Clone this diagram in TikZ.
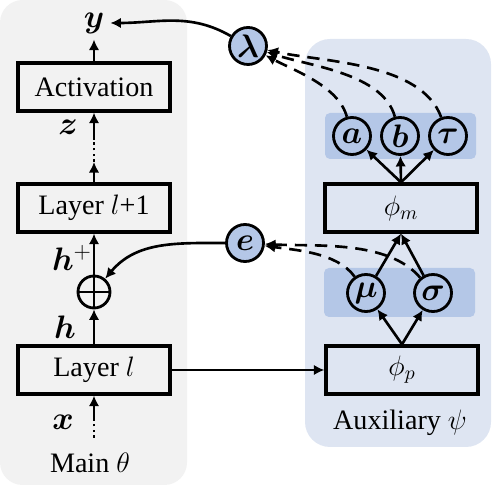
\RequirePackage{fix-cm}
\documentclass[tikz,border=0pt]{standalone}
\usepackage{fontspec}
\setmainfont{Liberation Serif}
\usepackage{bm}
\usetikzlibrary{arrows.meta, backgrounds}
\definecolor{panelgray}{RGB}{242,242,242}
\definecolor{panelblue}{RGB}{222,229,242}
\definecolor{bandblue}{RGB}{180,199,231}

\begin{document}
\begin{tikzpicture}[
    font=\fontsize{16}{19}\selectfont,
    layer/.style={draw, line width=1.9pt, minimum width=3.04cm, minimum height=0.96cm},
    var/.style={draw, circle, line width=1.6pt, fill=bandblue, minimum size=0.74cm, inner sep=0pt, font=\fontsize{18.5}{20}\selectfont},
    signal/.style={font=\fontsize{18.5}{20}\selectfont},
    flow/.style={line width=1.5pt, -{Latex[length=6pt, width=6pt]}},
    aux/.style={flow, dash pattern=on 7pt off 4.5pt, looseness=0.8}
]
    \useasboundingbox (0,0) rectangle (9.96,10);

    % Panels
    \fill[panelgray, rounded corners=0.45cm] (0,0.3) rectangle (3.74,10);
    \fill[panelblue, rounded corners=0.5cm] (6.1,1.06) rectangle (9.82,9.22);
    \fill[bandblue, rounded corners=0.1cm] (6.5,6.82) rectangle (9.52,7.74);
    \fill[bandblue, rounded corners=0.1cm] (6.48,3.66) rectangle (9.5,4.64);

    % Main network
    \node[layer] (act) at (1.88,8.26) {Activation};
    \node[layer] (lnext) at (1.88,5.84) {Layer $l$+1};
    \node[layer] (lcur) at (1.88,2.6) {Layer $l$};
    \node[draw, circle, line width=1.6pt, minimum size=0.64cm, inner sep=0pt] (add) at (1.88,4.16) {};
    \draw[line width=1.6pt] (add.north) -- (add.south) (add.west) -- (add.east);

    % Signals
    \node[signal] (y) at (1.88,9.54) {$\bm{y}$};
    \node[signal] (z) at (1.36,7.46) {$\bm{z}$};
    \node[signal] (hp) at (1.44,4.84) {$\bm{h}^{+}$};
    \node[signal] (h) at (1.3,3.46) {$\bm{h}$};
    \node[signal] (x) at (1.26,1.56) {$\bm{x}$};
    \node (main) at (1.8,0.74) {Main $\theta$};

    \coordinate (xin) at (1.88,1.24);
    \coordinate (xmid) at (1.88,1.64);
    \coordinate (zlow) at (1.88,6.76);
    \coordinate (zhigh) at (1.88,7.2);

    \draw[line width=1.5pt, dash pattern=on 1.5pt off 1.8pt] (xin) -- (xmid);
    \draw[flow] (xmid) -- (lcur);
    \draw[flow] (lcur) -- (add);
    \draw[flow] (add) -- (lnext);
    \draw[flow] (lnext) -- (zlow);
    \draw[line width=1.5pt, dash pattern=on 1.5pt off 1.8pt] (zlow) -- (zhigh);
    \draw[flow] (zhigh) -- (act);
    \draw[flow] (act) -- (y);

    % Hyper outputs
    \node[var] (lam) at (4.96,9.08) {$\bm{\lambda}$};
    \node[var] (e) at (4.9,5.14) {$\bm{e}$};
    \draw[flow] (lam) to[out=150, in=0] (y);
    \draw[flow] (e) to[out=180, in=50] (add);

    % Auxiliary network
    \node[var] (a) at (7.04,7.28) {$\bm{a}$};
    \node[var] (b) at (8.0,7.28) {$\bm{b}$};
    \node[var] (tau) at (8.96,7.28) {$\bm{\tau}$};
    \node[layer] (phim) at (8.02,5.84) {$\phi_m$};
    \node[var] (mu) at (7.32,4.14) {$\bm{\mu}$};
    \node[var] (sig) at (8.66,4.14) {$\bm{\sigma}$};
    \node[layer] (phip) at (8.04,2.6) {$\phi_p$};
    \node (auxlbl) at (8.0,1.54) {Auxiliary $\psi$};

    \draw[flow] (lcur) -- (phip);
    \draw[flow] (phip.north) -- (mu);
    \draw[flow] (phip.north) -- (sig);
    \draw[flow] (mu) -- (phim.south);
    \draw[flow] (sig) -- (phim.south);
    \draw[flow] (phim.north) -- (a);
    \draw[flow] (phim.north) -- (b);
    \draw[flow] (phim.north) -- (tau);

    % Dashed feedback
    \draw[aux] (a) to[out=105, in=-28] (lam);
    \draw[aux] (b) to[out=105, in=-18] (lam);
    \draw[aux] (tau) to[out=110, in=-12] (lam);
    \draw[aux] (mu) to[out=125, in=-8] (e);
    \draw[aux] (sig) to[out=130, in=-3] (e);
\end{tikzpicture}
\end{document}
